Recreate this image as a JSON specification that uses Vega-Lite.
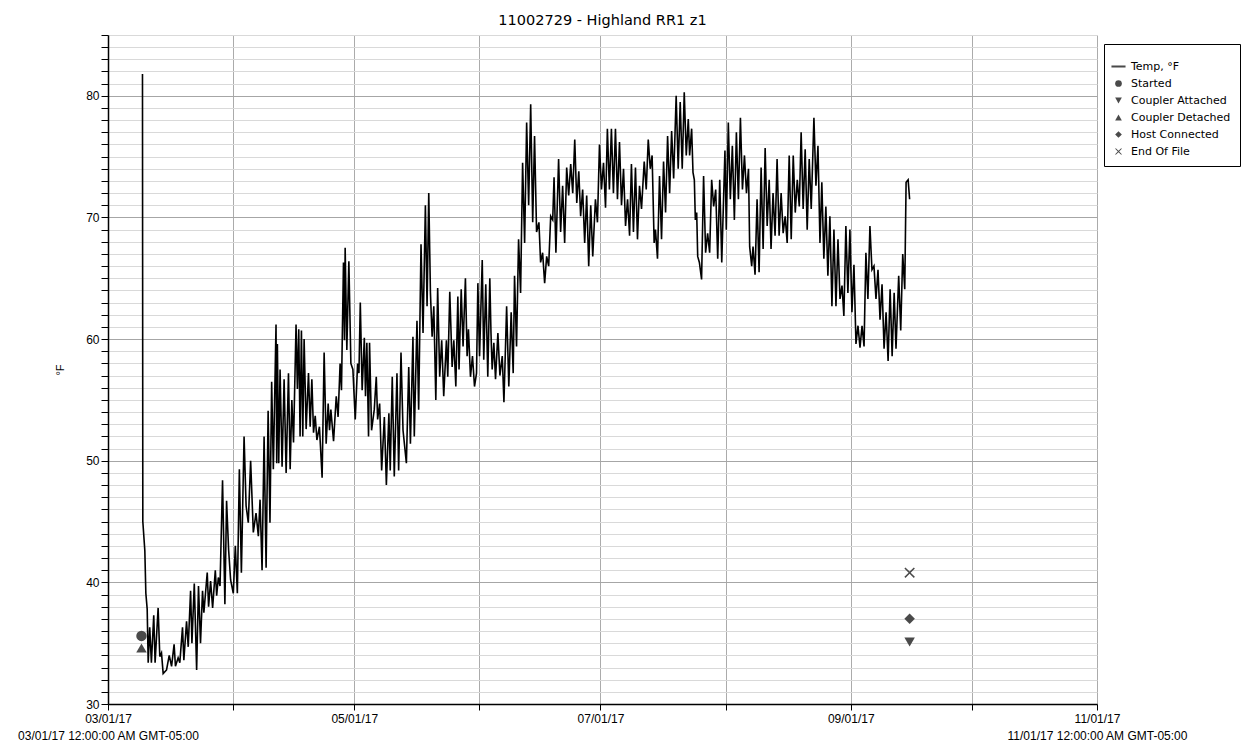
{
"$schema": "https://vega.github.io/schema/vega-lite/v6.json",
"autosize": {"type": "none"},
"width": 989,
"height": 669,
"padding": {"left": 108, "top": 35, "right": 149, "bottom": 47},
"background": "white",
"config": {"font": "Liberation Sans", "view": {"stroke": null}},
"title": {"text": "11002729 - Highland RR1 z1", "font": "DejaVu Sans", "fontSize": 14.5, "fontWeight": "normal", "color": "black", "anchor": "middle", "offset": 1},
"datasets": {
"temp": [
{"t":"2017-03-09T13:00","temp":81.8},{"t":"2017-03-09T15:00","temp":45.0},{"t":"2017-03-10T03:00","temp":42.6},{"t":"2017-03-10T09:00","temp":39.1},{"t":"2017-03-10T17:00","temp":37.8},{"t":"2017-03-10T23:00","temp":33.4},{"t":"2017-03-11T08:00","temp":36.3},{"t":"2017-03-11T18:00","temp":33.4},{"t":"2017-03-12T08:00","temp":37.3},{"t":"2017-03-12T16:00","temp":33.4},
{"t":"2017-03-13T10:00","temp":37.9},{"t":"2017-03-13T20:00","temp":33.9},{"t":"2017-03-14T06:00","temp":34.2},{"t":"2017-03-14T16:00","temp":32.5},{"t":"2017-03-15T12:00","temp":32.8},{"t":"2017-03-16T04:00","temp":34.0},{"t":"2017-03-16T18:00","temp":33.1},{"t":"2017-03-17T09:00","temp":34.9},{"t":"2017-03-17T17:00","temp":33.1},{"t":"2017-03-18T09:00","temp":33.8},
{"t":"2017-03-18T19:00","temp":33.4},{"t":"2017-03-19T11:00","temp":36.3},{"t":"2017-03-19T19:00","temp":33.6},{"t":"2017-03-20T11:00","temp":36.8},{"t":"2017-03-20T21:00","temp":34.7},{"t":"2017-03-21T11:00","temp":39.3},{"t":"2017-03-21T19:00","temp":35.0},{"t":"2017-03-22T09:00","temp":39.9},{"t":"2017-03-22T23:00","temp":32.8},{"t":"2017-03-23T10:00","temp":39.7},
{"t":"2017-03-23T22:00","temp":35.0},{"t":"2017-03-24T10:00","temp":39.3},{"t":"2017-03-24T18:00","temp":37.5},{"t":"2017-03-25T14:00","temp":40.8},{"t":"2017-03-25T22:00","temp":38.0},{"t":"2017-03-26T10:00","temp":40.1},{"t":"2017-03-26T22:00","temp":37.9},{"t":"2017-03-27T14:00","temp":41.0},{"t":"2017-03-27T22:00","temp":38.9},{"t":"2017-03-28T08:00","temp":40.4},
{"t":"2017-03-28T18:00","temp":39.7},{"t":"2017-03-29T09:00","temp":48.4},{"t":"2017-03-29T23:00","temp":38.2},{"t":"2017-03-30T09:00","temp":46.7},{"t":"2017-03-30T21:00","temp":42.7},{"t":"2017-03-31T09:00","temp":40.2},{"t":"2017-04-01T01:00","temp":39.1},{"t":"2017-04-01T13:00","temp":43.0},{"t":"2017-04-02T01:00","temp":39.1},{"t":"2017-04-02T13:00","temp":49.3},
{"t":"2017-04-03T01:00","temp":40.8},{"t":"2017-04-03T17:00","temp":52.0},{"t":"2017-04-04T05:00","temp":46.3},{"t":"2017-04-04T18:00","temp":44.9},{"t":"2017-04-05T08:00","temp":50.0},{"t":"2017-04-06T00:00","temp":44.1},{"t":"2017-04-06T16:00","temp":45.7},{"t":"2017-04-07T06:00","temp":43.8},{"t":"2017-04-07T16:00","temp":46.8},{"t":"2017-04-08T04:00","temp":41.0},
{"t":"2017-04-08T16:00","temp":52.0},{"t":"2017-04-09T04:00","temp":41.2},{"t":"2017-04-09T16:00","temp":54.1},{"t":"2017-04-10T03:00","temp":44.9},{"t":"2017-04-10T13:00","temp":56.5},{"t":"2017-04-10T23:00","temp":49.3},{"t":"2017-04-11T15:00","temp":61.2},{"t":"2017-04-11T19:00","temp":49.8},{"t":"2017-04-11T23:00","temp":59.6},{"t":"2017-04-12T07:00","temp":49.8},
{"t":"2017-04-12T15:00","temp":57.5},{"t":"2017-04-13T03:00","temp":49.5},{"t":"2017-04-13T15:00","temp":56.7},{"t":"2017-04-14T03:00","temp":49.0},{"t":"2017-04-14T17:00","temp":57.2},{"t":"2017-04-15T03:00","temp":49.3},{"t":"2017-04-15T13:00","temp":55.0},{"t":"2017-04-15T23:00","temp":51.5},{"t":"2017-04-16T14:00","temp":61.2},{"t":"2017-04-16T22:00","temp":55.9},
{"t":"2017-04-17T06:00","temp":60.8},{"t":"2017-04-17T14:00","temp":52.0},{"t":"2017-04-17T22:00","temp":60.7},{"t":"2017-04-18T06:00","temp":52.0},{"t":"2017-04-18T14:00","temp":60.0},{"t":"2017-04-19T02:00","temp":52.6},{"t":"2017-04-19T16:00","temp":57.2},{"t":"2017-04-20T02:00","temp":52.8},{"t":"2017-04-20T12:00","temp":56.7},{"t":"2017-04-20T22:00","temp":52.3},
{"t":"2017-04-21T08:00","temp":53.7},{"t":"2017-04-21T18:00","temp":51.7},{"t":"2017-04-22T09:00","temp":52.8},{"t":"2017-04-23T01:00","temp":48.6},{"t":"2017-04-23T13:00","temp":58.9},{"t":"2017-04-24T01:00","temp":51.4},{"t":"2017-04-24T13:00","temp":54.7},{"t":"2017-04-24T21:00","temp":52.5},{"t":"2017-04-25T05:00","temp":54.2},{"t":"2017-04-25T21:00","temp":51.6},
{"t":"2017-04-26T13:00","temp":55.3},{"t":"2017-04-27T00:00","temp":53.6},{"t":"2017-04-27T12:00","temp":58.0},{"t":"2017-04-27T20:00","temp":55.8},{"t":"2017-04-28T08:00","temp":66.3},{"t":"2017-04-28T14:00","temp":59.9},{"t":"2017-04-28T18:00","temp":67.5},{"t":"2017-04-29T04:00","temp":59.1},{"t":"2017-04-29T16:00","temp":66.4},{"t":"2017-04-30T04:00","temp":58.0},
{"t":"2017-04-30T16:00","temp":57.5},{"t":"2017-05-01T06:00","temp":53.4},{"t":"2017-05-01T20:00","temp":58.0},{"t":"2017-05-02T04:00","temp":57.2},{"t":"2017-05-02T12:00","temp":63.0},{"t":"2017-05-02T23:00","temp":55.8},{"t":"2017-05-03T12:00","temp":60.1},{"t":"2017-05-03T19:00","temp":55.3},{"t":"2017-05-04T03:00","temp":59.7},{"t":"2017-05-04T13:00","temp":52.0},
{"t":"2017-05-04T19:00","temp":59.7},{"t":"2017-05-05T07:00","temp":52.5},{"t":"2017-05-05T23:00","temp":54.2},{"t":"2017-05-06T11:00","temp":56.9},{"t":"2017-05-06T19:00","temp":53.4},{"t":"2017-05-07T07:00","temp":54.7},{"t":"2017-05-07T19:00","temp":49.2},{"t":"2017-05-08T11:00","temp":53.6},{"t":"2017-05-08T23:00","temp":48.0},{"t":"2017-05-09T14:00","temp":53.9},
{"t":"2017-05-09T22:00","temp":49.2},{"t":"2017-05-10T10:00","temp":56.9},{"t":"2017-05-10T22:00","temp":48.7},{"t":"2017-05-11T14:00","temp":57.2},{"t":"2017-05-12T00:00","temp":49.2},{"t":"2017-05-12T14:00","temp":58.9},{"t":"2017-05-13T02:00","temp":52.5},{"t":"2017-05-13T22:00","temp":49.8},{"t":"2017-05-14T12:00","temp":57.7},{"t":"2017-05-14T22:00","temp":51.4},
{"t":"2017-05-15T13:00","temp":60.2},{"t":"2017-05-15T21:00","temp":52.0},{"t":"2017-05-16T13:00","temp":61.5},{"t":"2017-05-16T23:00","temp":54.2},{"t":"2017-05-17T13:00","temp":67.8},{"t":"2017-05-18T01:00","temp":60.5},{"t":"2017-05-18T15:00","temp":71.0},{"t":"2017-05-19T01:00","temp":62.7},{"t":"2017-05-19T11:00","temp":72.0},{"t":"2017-05-19T21:00","temp":63.8},
{"t":"2017-05-20T07:00","temp":60.2},{"t":"2017-05-20T17:00","temp":62.7},{"t":"2017-05-21T05:00","temp":55.0},{"t":"2017-05-21T16:00","temp":64.2},{"t":"2017-05-22T04:00","temp":56.9},{"t":"2017-05-22T16:00","temp":59.9},{"t":"2017-05-23T04:00","temp":55.3},{"t":"2017-05-23T20:00","temp":59.9},{"t":"2017-05-24T04:00","temp":56.9},{"t":"2017-05-24T16:00","temp":63.9},
{"t":"2017-05-25T06:00","temp":57.7},{"t":"2017-05-25T16:00","temp":59.9},{"t":"2017-05-26T04:00","temp":56.1},{"t":"2017-05-26T16:00","temp":63.5},{"t":"2017-05-26T23:00","temp":57.5},{"t":"2017-05-27T12:00","temp":64.1},{"t":"2017-05-27T23:00","temp":59.4},{"t":"2017-05-28T13:00","temp":65.0},{"t":"2017-05-28T23:00","temp":58.6},{"t":"2017-05-29T07:00","temp":60.8},
{"t":"2017-05-29T19:00","temp":56.9},{"t":"2017-05-30T07:00","temp":58.6},{"t":"2017-05-30T19:00","temp":56.1},{"t":"2017-05-31T07:00","temp":57.2},{"t":"2017-05-31T15:00","temp":64.6},{"t":"2017-06-01T01:00","temp":58.6},{"t":"2017-06-01T17:00","temp":66.5},{"t":"2017-06-02T02:00","temp":58.3},{"t":"2017-06-02T14:00","temp":64.5},{"t":"2017-06-03T02:00","temp":56.9},
{"t":"2017-06-03T14:00","temp":65.0},{"t":"2017-06-03T21:00","temp":60.5},{"t":"2017-06-04T04:00","temp":57.5},{"t":"2017-06-04T14:00","temp":59.7},{"t":"2017-06-05T00:00","temp":56.7},{"t":"2017-06-05T14:00","temp":60.5},{"t":"2017-06-06T02:00","temp":57.0},{"t":"2017-06-06T16:00","temp":58.6},{"t":"2017-06-07T02:00","temp":54.8},{"t":"2017-06-07T18:00","temp":62.7},
{"t":"2017-06-08T07:00","temp":56.1},{"t":"2017-06-08T21:00","temp":62.2},{"t":"2017-06-09T09:00","temp":57.2},{"t":"2017-06-09T17:00","temp":65.2},{"t":"2017-06-10T05:00","temp":59.4},{"t":"2017-06-10T17:00","temp":68.2},{"t":"2017-06-11T05:00","temp":63.8},{"t":"2017-06-11T17:00","temp":74.5},{"t":"2017-06-12T05:00","temp":67.9},{"t":"2017-06-12T17:00","temp":77.8},
{"t":"2017-06-13T05:00","temp":71.0},{"t":"2017-06-13T17:00","temp":79.3},{"t":"2017-06-14T05:00","temp":69.6},{"t":"2017-06-14T16:00","temp":76.7},{"t":"2017-06-15T04:00","temp":68.8},{"t":"2017-06-15T18:00","temp":69.6},{"t":"2017-06-16T04:00","temp":66.3},{"t":"2017-06-16T16:00","temp":67.1},{"t":"2017-06-17T04:00","temp":64.6},{"t":"2017-06-17T16:00","temp":66.8},
{"t":"2017-06-18T04:00","temp":66.0},{"t":"2017-06-18T16:00","temp":70.1},{"t":"2017-06-19T04:00","temp":69.8},{"t":"2017-06-19T12:00","temp":73.3},{"t":"2017-06-19T23:00","temp":67.1},{"t":"2017-06-20T15:00","temp":74.8},{"t":"2017-06-21T03:00","temp":68.8},{"t":"2017-06-21T15:00","temp":72.6},{"t":"2017-06-22T03:00","temp":67.9},{"t":"2017-06-22T15:00","temp":74.1},
{"t":"2017-06-23T03:00","temp":71.8},{"t":"2017-06-23T15:00","temp":74.4},{"t":"2017-06-24T03:00","temp":72.0},{"t":"2017-06-24T15:00","temp":76.4},{"t":"2017-06-25T03:00","temp":71.2},{"t":"2017-06-25T15:00","temp":73.8},{"t":"2017-06-26T02:00","temp":70.1},{"t":"2017-06-26T14:00","temp":72.3},{"t":"2017-06-27T02:00","temp":67.9},{"t":"2017-06-27T14:00","temp":71.8},
{"t":"2017-06-28T02:00","temp":66.0},{"t":"2017-06-28T14:00","temp":71.0},{"t":"2017-06-29T02:00","temp":66.8},{"t":"2017-06-29T18:00","temp":71.5},{"t":"2017-06-30T06:00","temp":69.6},{"t":"2017-06-30T18:00","temp":76.0},{"t":"2017-07-01T06:00","temp":72.3},{"t":"2017-07-01T18:00","temp":74.5},{"t":"2017-07-02T06:00","temp":70.8},{"t":"2017-07-02T17:00","temp":77.3},
{"t":"2017-07-03T05:00","temp":72.3},{"t":"2017-07-03T17:00","temp":77.3},{"t":"2017-07-04T05:00","temp":72.0},{"t":"2017-07-04T17:00","temp":77.3},{"t":"2017-07-05T05:00","temp":71.5},{"t":"2017-07-05T17:00","temp":76.2},{"t":"2017-07-06T05:00","temp":71.0},{"t":"2017-07-06T17:00","temp":74.0},{"t":"2017-07-07T05:00","temp":69.3},{"t":"2017-07-07T17:00","temp":71.5},
{"t":"2017-07-08T05:00","temp":68.5},{"t":"2017-07-08T16:00","temp":74.4},{"t":"2017-07-09T04:00","temp":68.8},{"t":"2017-07-09T16:00","temp":74.1},{"t":"2017-07-10T04:00","temp":68.2},{"t":"2017-07-10T16:00","temp":72.6},{"t":"2017-07-11T04:00","temp":70.7},{"t":"2017-07-11T20:00","temp":74.6},{"t":"2017-07-12T08:00","temp":72.3},{"t":"2017-07-12T20:00","temp":76.4},
{"t":"2017-07-13T08:00","temp":74.0},{"t":"2017-07-13T19:00","temp":75.1},{"t":"2017-07-14T07:00","temp":67.9},{"t":"2017-07-14T15:00","temp":69.0},{"t":"2017-07-15T03:00","temp":66.6},{"t":"2017-07-15T15:00","temp":73.4},{"t":"2017-07-16T03:00","temp":68.2},{"t":"2017-07-16T15:00","temp":74.6},{"t":"2017-07-17T03:00","temp":70.4},{"t":"2017-07-17T15:00","temp":76.7},
{"t":"2017-07-18T03:00","temp":72.0},{"t":"2017-07-18T15:00","temp":77.1},{"t":"2017-07-19T03:00","temp":73.2},{"t":"2017-07-19T18:00","temp":80.0},{"t":"2017-07-20T06:00","temp":74.0},{"t":"2017-07-20T18:00","temp":79.5},{"t":"2017-07-21T06:00","temp":74.0},{"t":"2017-07-21T18:00","temp":80.3},{"t":"2017-07-22T06:00","temp":75.1},{"t":"2017-07-22T18:00","temp":78.1},
{"t":"2017-07-23T02:00","temp":75.1},{"t":"2017-07-23T14:00","temp":77.3},{"t":"2017-07-23T22:00","temp":73.7},{"t":"2017-07-24T06:00","temp":73.1},{"t":"2017-07-24T12:00","temp":69.8},{"t":"2017-07-24T20:00","temp":70.4},{"t":"2017-07-25T02:00","temp":66.8},{"t":"2017-07-25T12:00","temp":66.3},{"t":"2017-07-26T01:00","temp":64.9},{"t":"2017-07-26T13:00","temp":73.4},
{"t":"2017-07-27T01:00","temp":67.1},{"t":"2017-07-27T13:00","temp":68.7},{"t":"2017-07-28T01:00","temp":67.1},{"t":"2017-07-28T13:00","temp":73.1},{"t":"2017-07-29T01:00","temp":70.9},{"t":"2017-07-29T13:00","temp":72.3},{"t":"2017-07-30T01:00","temp":66.6},{"t":"2017-07-30T13:00","temp":73.1},{"t":"2017-07-31T01:00","temp":66.3},{"t":"2017-07-31T20:00","temp":75.5},
{"t":"2017-08-01T04:00","temp":69.0},{"t":"2017-08-01T16:00","temp":77.8},{"t":"2017-08-02T04:00","temp":71.5},{"t":"2017-08-02T16:00","temp":75.9},{"t":"2017-08-03T04:00","temp":69.8},{"t":"2017-08-03T16:00","temp":77.0},{"t":"2017-08-04T04:00","temp":71.5},{"t":"2017-08-04T16:00","temp":78.2},{"t":"2017-08-05T04:00","temp":72.3},{"t":"2017-08-05T16:00","temp":75.1},
{"t":"2017-08-06T04:00","temp":72.0},{"t":"2017-08-06T16:00","temp":74.0},{"t":"2017-08-06T23:00","temp":67.6},{"t":"2017-08-07T11:00","temp":66.0},{"t":"2017-08-07T19:00","temp":67.6},{"t":"2017-08-08T07:00","temp":65.3},{"t":"2017-08-08T19:00","temp":71.5},{"t":"2017-08-09T07:00","temp":65.5},{"t":"2017-08-09T19:00","temp":74.1},{"t":"2017-08-10T07:00","temp":67.4},
{"t":"2017-08-10T19:00","temp":75.7},{"t":"2017-08-11T07:00","temp":69.3},{"t":"2017-08-11T19:00","temp":73.1},{"t":"2017-08-12T06:00","temp":67.4},{"t":"2017-08-12T18:00","temp":72.0},{"t":"2017-08-13T06:00","temp":68.5},{"t":"2017-08-13T18:00","temp":74.8},{"t":"2017-08-14T06:00","temp":68.5},{"t":"2017-08-14T18:00","temp":72.0},{"t":"2017-08-15T06:00","temp":68.7},
{"t":"2017-08-15T18:00","temp":70.1},{"t":"2017-08-16T06:00","temp":67.9},{"t":"2017-08-16T18:00","temp":75.1},{"t":"2017-08-17T06:00","temp":68.2},{"t":"2017-08-17T18:00","temp":75.1},{"t":"2017-08-18T06:00","temp":70.4},{"t":"2017-08-18T18:00","temp":73.1},{"t":"2017-08-19T06:00","temp":70.9},{"t":"2017-08-19T17:00","temp":77.0},{"t":"2017-08-20T05:00","temp":70.7},
{"t":"2017-08-20T17:00","temp":75.6},{"t":"2017-08-21T05:00","temp":69.0},{"t":"2017-08-21T17:00","temp":74.8},{"t":"2017-08-22T05:00","temp":70.7},{"t":"2017-08-22T21:00","temp":78.2},{"t":"2017-08-23T09:00","temp":72.6},{"t":"2017-08-23T21:00","temp":75.9},{"t":"2017-08-24T09:00","temp":67.9},{"t":"2017-08-24T20:00","temp":72.9},{"t":"2017-08-25T08:00","temp":66.6},
{"t":"2017-08-25T20:00","temp":70.9},{"t":"2017-08-26T08:00","temp":65.2},{"t":"2017-08-26T20:00","temp":70.1},{"t":"2017-08-27T08:00","temp":62.7},{"t":"2017-08-27T20:00","temp":69.0},{"t":"2017-08-28T08:00","temp":62.7},{"t":"2017-08-28T20:00","temp":68.2},{"t":"2017-08-29T08:00","temp":63.3},{"t":"2017-08-29T20:00","temp":64.4},{"t":"2017-08-30T07:00","temp":61.9},
{"t":"2017-08-30T19:00","temp":69.3},{"t":"2017-08-31T07:00","temp":63.8},{"t":"2017-08-31T19:00","temp":69.0},{"t":"2017-09-01T07:00","temp":62.2},{"t":"2017-09-01T19:00","temp":66.1},{"t":"2017-09-02T07:00","temp":59.6},{"t":"2017-09-02T19:00","temp":61.1},{"t":"2017-09-03T07:00","temp":59.3},{"t":"2017-09-03T19:00","temp":61.1},{"t":"2017-09-04T07:00","temp":59.4},
{"t":"2017-09-04T18:00","temp":67.1},{"t":"2017-09-05T06:00","temp":63.3},{"t":"2017-09-05T18:00","temp":69.3},{"t":"2017-09-06T06:00","temp":65.7},{"t":"2017-09-06T18:00","temp":66.0},{"t":"2017-09-07T06:00","temp":63.3},{"t":"2017-09-07T18:00","temp":65.7},{"t":"2017-09-08T06:00","temp":61.6},{"t":"2017-09-08T18:00","temp":64.5},{"t":"2017-09-09T06:00","temp":59.2},
{"t":"2017-09-09T18:00","temp":62.2},{"t":"2017-09-10T06:00","temp":58.2},{"t":"2017-09-10T18:00","temp":64.1},{"t":"2017-09-11T06:00","temp":58.6},{"t":"2017-09-11T18:00","temp":63.8},{"t":"2017-09-12T05:00","temp":59.2},{"t":"2017-09-12T21:00","temp":65.2},{"t":"2017-09-13T09:00","temp":60.7},{"t":"2017-09-13T21:00","temp":67.0},{"t":"2017-09-14T09:00","temp":64.1},
{"t":"2017-09-14T17:00","temp":72.9},{"t":"2017-09-15T05:00","temp":73.1},{"t":"2017-09-15T14:00","temp":71.5}
],
"events": [
{"t":"2017-03-09T07:00","temp":35.6,"event":"Started"},
{"t":"2017-03-09T07:00","temp":34.6,"event":"Coupler Detached"},
{"t":"2017-09-15T14:00","temp":37.0,"event":"Host Connected"},
{"t":"2017-09-15T14:00","temp":35.1,"event":"Coupler Attached"},
{"t":"2017-09-15T14:00","temp":40.8,"event":"End Of File"}
]
},
"layer": [
{
"data": {"name": "temp"},
"mark": {"type": "line", "color": "black", "strokeWidth": 1.6},
"encoding": {
"x": {"field": "t", "type": "temporal",
 "scale": {"domain": [{"year": 2017, "month": 3, "date": 1}, {"year": 2017, "month": 11, "date": 1}]},
 "axis": {"title": null, "tickCount": 100,
  "values": [{"year": 2017, "month": 3, "date": 1}, {"year": 2017, "month": 4, "date": 1}, {"year": 2017, "month": 5, "date": 1}, {"year": 2017, "month": 6, "date": 1}, {"year": 2017, "month": 7, "date": 1}, {"year": 2017, "month": 8, "date": 1}, {"year": 2017, "month": 9, "date": 1}, {"year": 2017, "month": 10, "date": 1}, {"year": 2017, "month": 11, "date": 1}],
  "format": "%m/%d/%y",
  "labelExpr": "(month(datum.value) == 2 || month(datum.value) == 10) ? [datum.label, datum.label + ' 12:00:00 AM GMT-05:00'] : (month(datum.value) % 2 == 0 ? datum.label : '')",
  "labelFontSize": 12, "labelColor": "black", "labelLineHeight": 17, "labelPadding": 3, "labelLimit": 400,
  "labelOverlap": false, "labelFlush": false, "labelBound": false,
  "tickSize": 6, "tickColor": "black", "tickWidth": 1,
  "domainColor": "black", "domainWidth": 1.5,
  "grid": true, "gridColor": "#ababab", "gridWidth": 1}},
"y": {"field": "temp", "type": "quantitative",
 "scale": {"domain": [30, 85], "nice": false, "zero": false},
 "axis": {"title": "°F", "titleFontWeight": "normal", "titleFontSize": 11, "titleColor": "black", "titlePadding": 20, "tickCount": 100, "format": "d",
  "values": [30,31,32,33,34,35,36,37,38,39,40,41,42,43,44,45,46,47,48,49,50,51,52,53,54,55,56,57,58,59,60,61,62,63,64,65,66,67,68,69,70,71,72,73,74,75,76,77,78,79,80,81,82,83,84,85],
  "labelExpr": "datum.value % 10 === 0 ? datum.label : ''",
  "labelFontSize": 12, "labelColor": "black", "labelPadding": 2, "labelOverlap": false,
  "tickSize": 7, "tickColor": "black", "tickWidth": 1,
  "domainColor": "black", "domainWidth": 1.5,
  "grid": true,
  "gridColor": {"condition": {"test": "datum.value % 10 === 0", "value": "#a6a6a6"}, "value": "#d9d9d9"},
  "gridWidth": 1}}
}
},
{
"data": {"name": "events"},
"mark": {"type": "point", "filled": true, "opacity": 1, "color": "#4a4a4a", "size": 110, "strokeWidth": 0},
"encoding": {
"x": {"field": "t", "type": "temporal"},
"y": {"field": "temp", "type": "quantitative"},
"shape": {"field": "event", "type": "nominal",
 "scale": {"domain": ["Temp, °F", "Started", "Coupler Attached", "Coupler Detached", "Host Connected", "End Of File"],
  "range": ["M-2.1,-0.3L2.1,-0.3L2.1,0.3L-2.1,0.3Z", "circle", "triangle-down", "triangle-up", "diamond", "M-1,-0.8L-0.8,-1L0,-0.2L0.8,-1L1,-0.8L0.2,0L1,0.8L0.8,1L0,0.2L-0.8,1L-1,0.8L-0.2,0Z"]},
 "legend": {"orient": "none", "legendX": 996, "legendY": 9, "title": " ", "titleFontSize": 8, "titlePadding": 0,
  "strokeColor": "black", "fillColor": "white", "padding": 9,
  "labelFont": "DejaVu Sans", "labelFontSize": 11, "labelColor": "black", "labelOffset": 7, "rowPadding": 5,
  "symbolSize": 45, "symbolStrokeWidth": 0, "symbolFillColor": "#333333",
  "encode": {"symbols": {"update": {"size": {"value": 45}, "fill": {"value": "#333333"}}}}}}
}
}
]
}
